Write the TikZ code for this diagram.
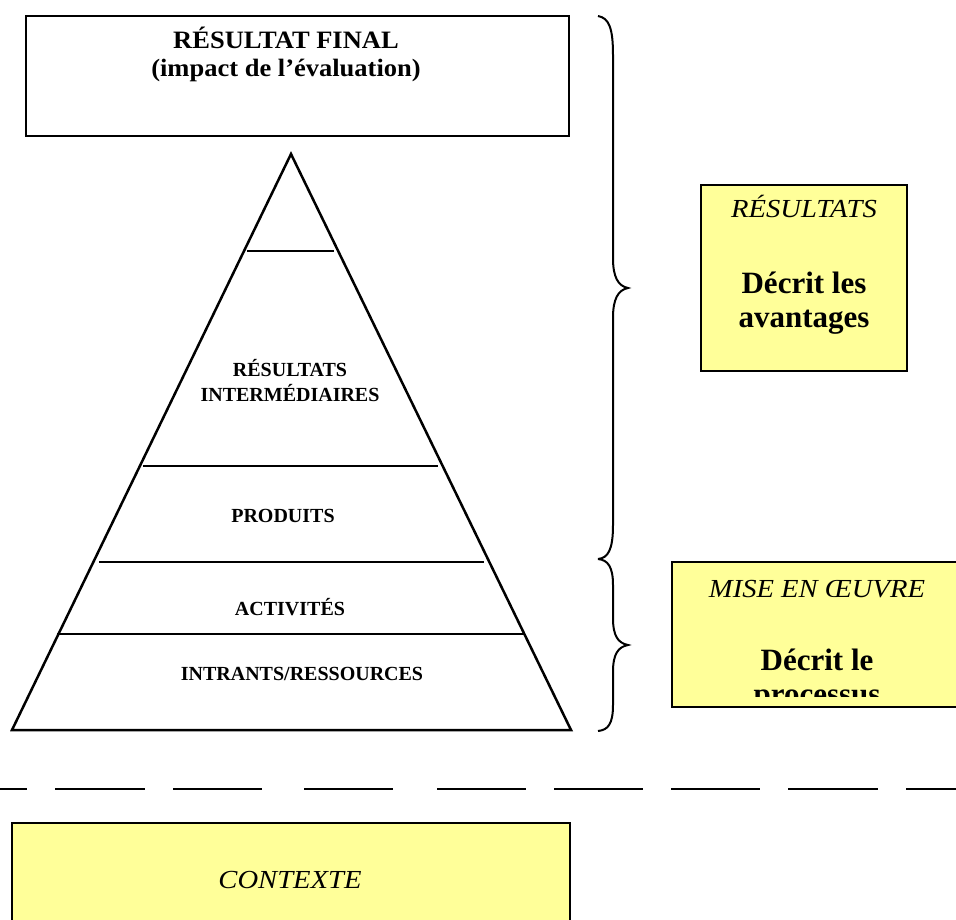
\documentclass[tikz,border=0pt]{standalone}
\usepackage{fontspec}
\setmainfont{Liberation Serif}
\newfontfamily\ttlfont[FakeStretch=1.06]{Liberation Serif}
\newfontfamily\itfont[FakeStretch=1.1]{Liberation Serif}
\definecolor{paleyellow}{HTML}{FFFF99}
\begin{document}
\begin{tikzpicture}[x=1pt,y=-1pt,
  frame/.style={draw=black, line width=2.4pt, inner sep=0pt},
  ybox/.style={frame, fill=paleyellow},
  lbl/.style={inner sep=0pt, anchor=base, font=\fontsize{20}{23}\selectfont\bfseries},
  ttl/.style={inner sep=0pt, anchor=base, font=\ttlfont\fontsize{25}{28}\selectfont\bfseries},
  ital/.style={inner sep=0pt, anchor=base, font=\itfont\fontsize{26}{29}\selectfont\itshape},
  big/.style={inner sep=0pt, anchor=base, font=\fontsize{31}{34}\selectfont\bfseries},
  ln/.style={line width=2.5pt},
  brc/.style={line width=2pt},
]
\useasboundingbox (0,0) rectangle (956,920);

% top box
\node[frame, minimum width=543pt, minimum height=120pt] (final) at (297.5,76) {};
\node[ttl] (t1) at (286,49) {RÉSULTAT FINAL};
\node[ttl] (t2) at (286,77) {(impact de l’évaluation)};

% pyramid
\coordinate (apex) at (291,154);
\coordinate (br) at (571,730);
\coordinate (bl) at (12,730);
\draw[ln, line join=miter] (apex) -- (br) -- (bl) -- cycle;
\draw[ln] (247,251) -- (334,251);
\draw[ln] (143,466) -- (438,466);
\draw[ln] (99,562) -- (484,562);
\draw[ln] (57,634) -- (525,634);

\node[lbl] (ri1) at (290,376) {RÉSULTATS};
\node[lbl] (ri2) at (290,401) {INTERMÉDIAIRES};
\node[lbl] (prod) at (283,522) {PRODUITS};
\node[lbl] (act) at (290,615) {ACTIVITÉS};
\node[lbl] (intr) at (302,680) {INTRANTS/RESSOURCES};

% braces
\draw[brc] (598,16) .. controls (609,18) and (613,28) .. (613,55)
  -- (613,258) .. controls (613,277) and (618,286) .. (628,288)
  .. controls (618,290) and (613,299) .. (613,318)
  -- (613,525) .. controls (613,550) and (608,558) .. (598,559);
\draw[brc] (598,559) .. controls (608,560) and (613,567) .. (613,585)
  -- (613,618) .. controls (613,636) and (618,643) .. (628,645)
  .. controls (618,647) and (613,654) .. (613,672)
  -- (613,705) .. controls (613,724) and (608,730) .. (598,731);

% yellow box: resultats
\node[ybox, minimum width=206pt, minimum height=186pt] (res) at (804,278) {};
\node[ital] (res1) at (804,218) {RÉSULTATS};
\node[big] (res2) at (804,293) {Décrit les};
\node[big] (res3) at (804,327) {avantages};

% yellow box: mise en oeuvre
\node[ybox, minimum width=290pt, minimum height=145pt] (meo) at (817,634.5) {};
\node[ital] (meo1) at (817,597) {MISE EN ŒUVRE};
\node[big] (meo2) at (817,670) {Décrit le};
\begin{scope}
  \clip (672,562) rectangle (962,696);
  \node[big] (meo3) at (817,704) {processus};
\end{scope}

% dashed separator
\foreach \a/\b in {0/27, 55/145, 173/262, 304/393, 437/526, 554/643, 671/760, 788/878, 906/956}{
  \draw[line width=2.6pt] (\a,789) -- (\b,789);
}

% contexte
\node[ybox, line width=1.8pt, minimum width=558pt, minimum height=137pt] (ctx) at (291,891.5) {};
\node[ital] (ctx1) at (290,888) {CONTEXTE};
\end{tikzpicture}
\end{document}
